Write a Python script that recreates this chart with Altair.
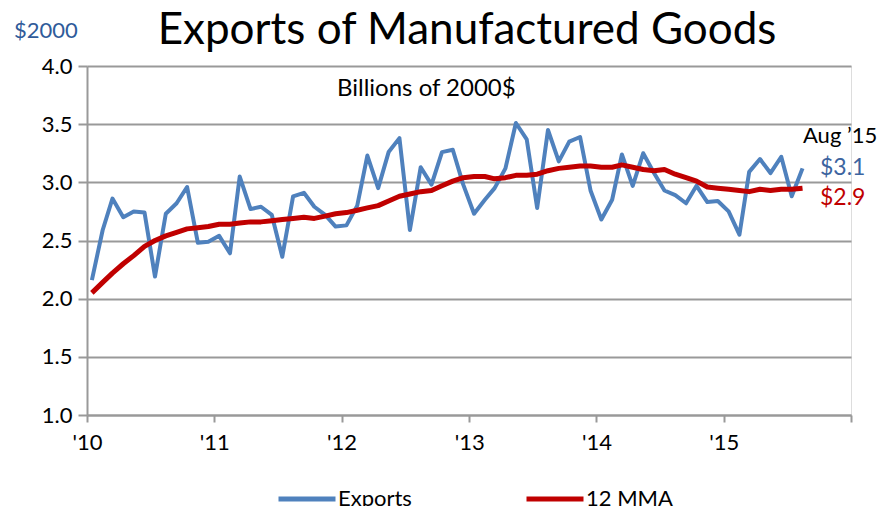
import altair as alt
import pandas as pd

# Monthly data, Jan 2010 - Aug 2015 (plotted at mid-month)
months = [f"{2010 + i // 12}-{i % 12 + 1:02d}-15" for i in range(68)]

exports = [2.16, 2.59, 2.86, 2.70, 2.75, 2.74, 2.19, 2.73, 2.82, 2.96, 2.48, 2.49,
           2.54, 2.39, 3.05, 2.77, 2.79, 2.72, 2.36, 2.88, 2.91, 2.79, 2.72, 2.62,
           2.63, 2.80, 3.23, 2.95, 3.26, 3.38, 2.59, 3.13, 2.98, 3.26, 3.28, 2.98,
           2.73, 2.85, 2.95, 3.12, 3.51, 3.37, 2.78, 3.45, 3.18, 3.35, 3.39, 2.93,
           2.68, 2.85, 3.24, 2.97, 3.25, 3.08, 2.93, 2.89, 2.82, 2.97, 2.83, 2.84,
           2.75, 2.55, 3.09, 3.20, 3.08, 3.22, 2.88, 3.12]

mma12 = [2.05, 2.14, 2.22, 2.30, 2.37, 2.45, 2.50, 2.54, 2.57, 2.60, 2.61, 2.62,
         2.64, 2.64, 2.65, 2.66, 2.66, 2.67, 2.68, 2.69, 2.70, 2.69, 2.71, 2.73,
         2.74, 2.76, 2.78, 2.80, 2.84, 2.88, 2.90, 2.92, 2.93, 2.97, 3.01, 3.04,
         3.05, 3.05, 3.03, 3.04, 3.06, 3.06, 3.07, 3.10, 3.12, 3.13, 3.14, 3.14,
         3.13, 3.13, 3.15, 3.13, 3.11, 3.10, 3.11, 3.07, 3.04, 3.01, 2.96, 2.95,
         2.94, 2.93, 2.92, 2.94, 2.93, 2.94, 2.94, 2.95]

series_names = ["Exports", "12 MMA"]
series_colors = ["#4F81BD", "#C00000"]
year_ticks = [2010, 2011, 2012, 2013, 2014, 2015, 2016]
y_ticks = [1.0, 1.5, 2.0, 2.5, 3.0, 3.5, 4.0]

df = pd.DataFrame({
    "date": months * 2,
    "value": exports + mma12,
    "series": ["Exports"] * len(months) + ["12 MMA"] * len(months),
})

FONT = "Lato"
GRID = "#999999"

color = alt.Color(
    "series:N",
    scale=alt.Scale(domain=series_names, range=series_colors),
    legend=alt.Legend(
        title=None, orient="none", legendX=189, legendY=402,
        direction="horizontal", symbolType="stroke", symbolSize=3249,
        symbolStrokeWidth=5, labelFontSize=22, labelFont=FONT,
        labelColor="black", columnPadding=104, labelOffset=0, padding=0,
    ),
)

x = alt.X(
    "date:T",
    scale=alt.Scale(
        type="utc",
        domain=[alt.DateTime(year=2010, month=1, date=1, utc=True),
                alt.DateTime(year=2016, month=1, date=1, utc=True)],
    ),
    axis=alt.Axis(
        values=[alt.DateTime(year=y, month=1, date=1, utc=True) for y in year_ticks],
        labelExpr="utcyear(datum.value) < 2016 ? '\u00a0\u00a0\u00a0\\'' + utcFormat(datum.value, '%y') : ''",
        grid=False, tickSize=7, tickColor=GRID, tickWidth=2,
        domainColor=GRID, domainWidth=2, labelFont=FONT, labelFontSize=22,
        labelColor="black", labelPadding=10, labelAlign="center",
        labelBaseline="top", title=None, labelFlush=False, labelOverlap=False,
    ),
)

y = alt.Y(
    "value:Q",
    scale=alt.Scale(domain=[1.0, 4.0], nice=False, zero=False),
    axis=alt.Axis(
        values=y_ticks, format=".1f", grid=True, gridColor=GRID, gridWidth=2,
        tickSize=9, tickColor=GRID, tickWidth=2, domainColor=GRID, domainWidth=2,
        labelFont=FONT, labelFontSize=22, labelColor="black", labelPadding=6,
        title=None,
    ),
)

base = alt.Chart(df)
blue = base.transform_filter(alt.datum.series == "Exports").mark_line(
    strokeWidth=4, strokeJoin="round").encode(x=x, y=y, color=color)
red = base.transform_filter(alt.datum.series == "12 MMA").mark_line(
    strokeWidth=5, strokeJoin="round").encode(x=x, y=y, color=color)


def label(text, px, py, size=22, col="black", align="left"):
    return alt.Chart(pd.DataFrame({"t": [text]})).mark_text(
        font=FONT, fontSize=size, color=col, align=align, baseline="alphabetic"
    ).encode(text="t:N", x=alt.value(px), y=alt.value(py))


title = label("Exports of Manufactured Goods", 380, -22, size=44, align="center")
unit = label("$2000", -73, -28, size=22, col="#2F5B9A")
sub = label("Billions of 2000$", 250, 30, size=24)
aug = label("Aug \u201915", 716, 77, size=22)
v1 = label("$3.1", 733, 109, size=23, col="#3C64A0")
v2 = label("$2.9", 733, 139, size=23, col="#C00000")

chart = alt.layer(blue, red, title, unit, sub, aug, v1, v2).properties(
    width=764, height=349,
    autosize=alt.AutoSizeParams(type="none"),
    padding={"left": 79, "top": 58, "right": 27, "bottom": 100},
).configure_view(stroke=None).configure(background="white")

chart.save("out.html", embed_options={"renderer": "svg", "actions": False})
